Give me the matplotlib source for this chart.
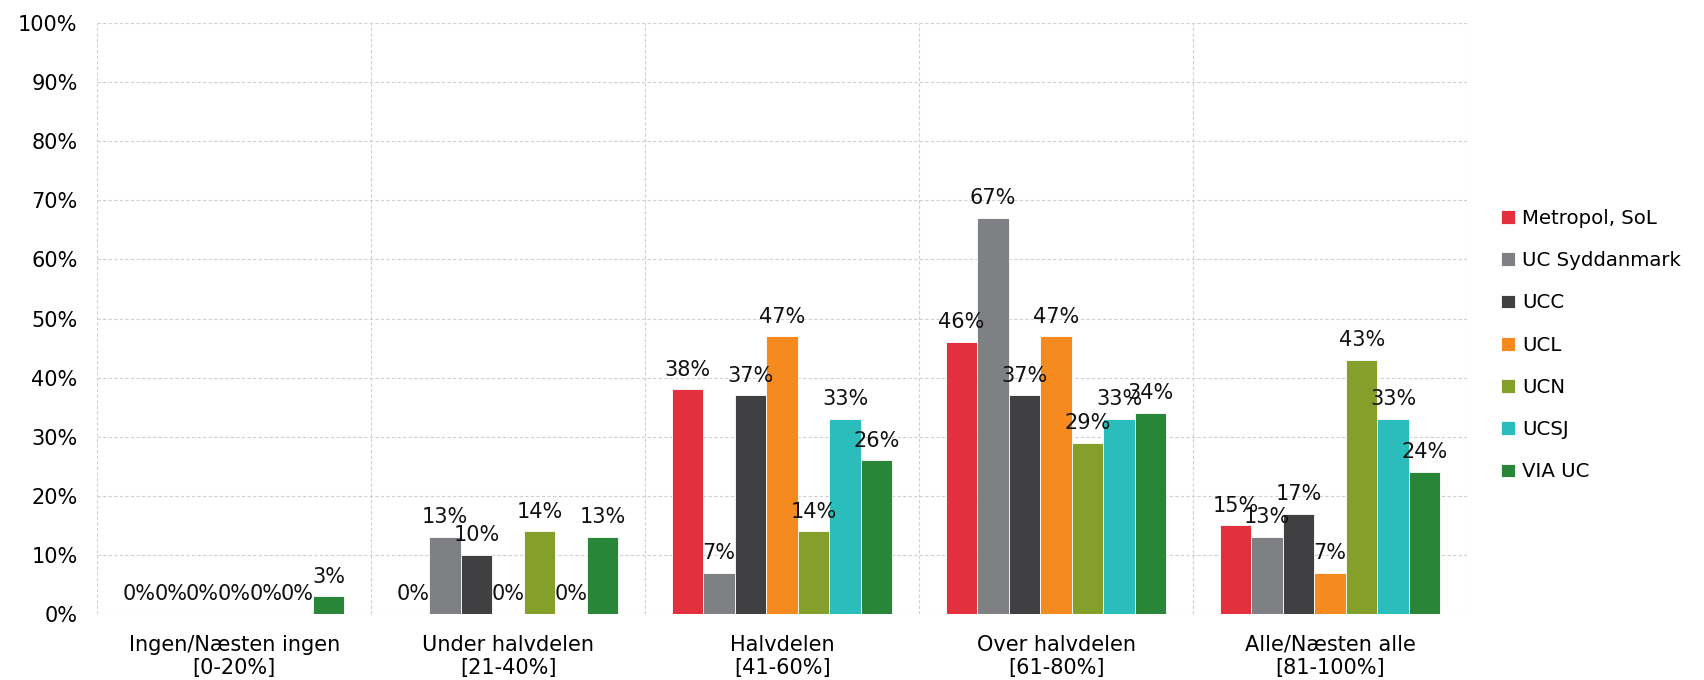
import numpy as np
import matplotlib
matplotlib.use("Agg")
import matplotlib.pyplot as plt

categories = ["Ingen/Næsten ingen\n[0-20%]", "Under halvdelen\n[21-40%]", "Halvdelen\n[41-60%]",
              "Over halvdelen\n[61-80%]", "Alle/Næsten alle\n[81-100%]"]
schools = ["Metropol, SoL", "UC Syddanmark", "UCC", "UCL", "UCN", "UCSJ", "VIA UC"]
colors = ["#E3303F", "#7F8084", "#404042", "#F58B1F", "#84A02B", "#2BBDBC", "#298537"]

metropol = [0, 0, 38, 46, 15]
syddanmark = [0, 13, 7, 67, 13]
ucc = [0, 10, 37, 37, 17]
ucl = [0, 0, 47, 47, 7]
ucn = [0, 14, 14, 29, 43]
ucsj = [0, 0, 33, 33, 33]
via = [3, 13, 26, 34, 24]
series = [metropol, syddanmark, ucc, ucl, ucn, ucsj, via]

plt.rcParams["font.family"] = ["DejaVu Sans"]
fs = 15
fig = plt.figure(figsize=(17.04, 6.8), dpi=100)
ax = fig.add_axes([0.057, 0.097, 0.804, 0.869])

x = np.arange(len(categories))
w = 0.115
for i, (name, vals, c) in enumerate(zip(schools, series, colors)):
    pos = x + (i - 3) * w
    ax.bar(pos, vals, width=w, color=c, label=name, edgecolor="#ffffff", linewidth=0.6, zorder=3)
    for xp, v in zip(pos, vals):
        ax.annotate(f"{v}%", (xp, v), xytext=(0, 7), textcoords="offset points",
                    ha="center", va="bottom", fontsize=fs, color="#111111", zorder=4)

ax.set_xlim(-0.5, len(categories) - 0.5)
ax.set_ylim(0, 100)
ax.set_yticks(range(0, 101, 10))
ax.set_yticklabels([f"{t}%" for t in range(0, 101, 10)], fontsize=fs)
ax.set_xticks(x)
ax.set_xticklabels(categories, fontsize=fs, linespacing=1.2)
ax.set_xticks(np.arange(-0.5, len(categories)), minor=True)
ax.tick_params(axis="both", which="both", length=0)
ax.tick_params(axis="y", pad=14)
ax.tick_params(axis="x", which="major", pad=15)
ax.grid(axis="y", color="#d0d0d0", linestyle=(0, (3, 2)), linewidth=0.8, zorder=0)
ax.grid(axis="x", which="minor", color="#d0d0d0", linestyle=(0, (3, 2)), linewidth=0.8, zorder=0)
for s in ax.spines.values():
    s.set_visible(False)

ax.legend(loc="center left", bbox_to_anchor=(1.012, 0.455), frameon=False, fontsize=14.2,
          handlelength=0.7, handleheight=0.7, handletextpad=0.35, labelspacing=1.18)

fig.savefig("out.png", dpi=100)
